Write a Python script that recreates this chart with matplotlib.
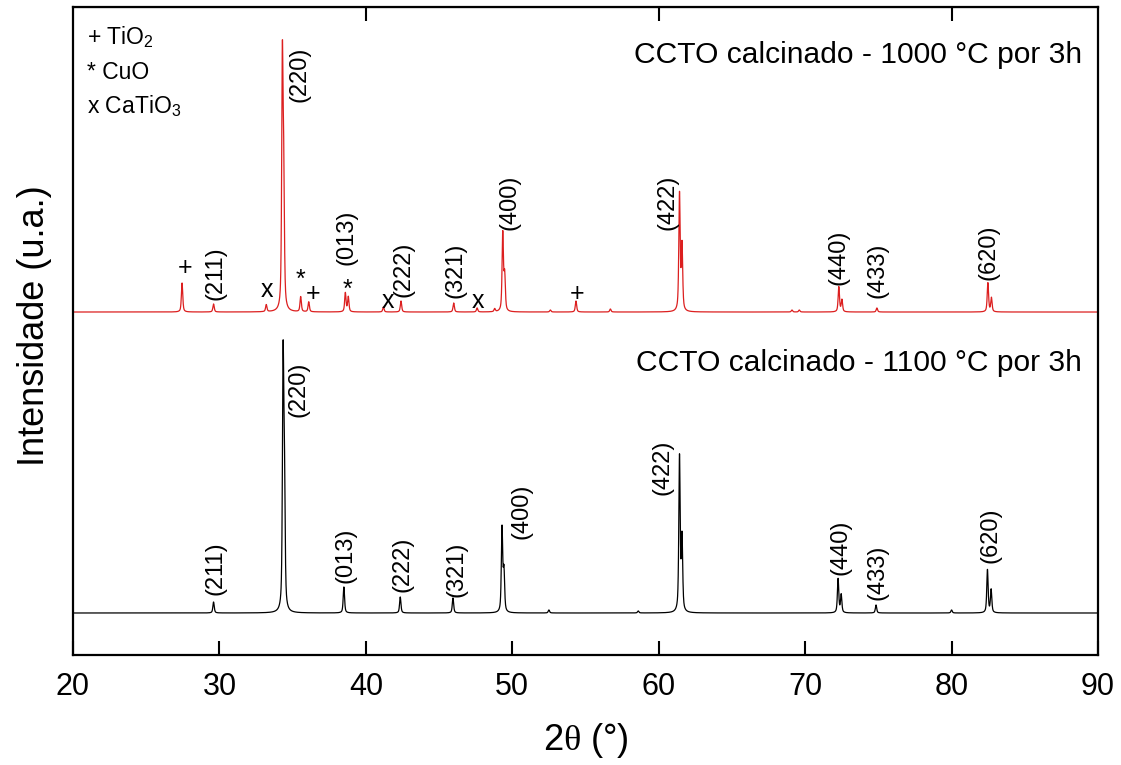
import numpy as np
import matplotlib.pyplot as plt

plt.rcParams['font.family'] = ['Liberation Sans', 'DejaVu Sans']
plt.rcParams['mathtext.fontset'] = 'custom'
plt.rcParams['mathtext.rm'] = 'Liberation Serif'
plt.rcParams['mathtext.sf'] = 'Liberation Sans'
plt.rcParams['mathtext.it'] = 'Liberation Serif:italic'

peaks_1100 = [29.60, 34.35, 34.44, 38.50, 42.35, 45.95, 49.30, 49.43, 52.50,
              58.60, 61.42, 61.59, 72.25, 72.46, 74.84, 80.00, 82.45, 82.70]
heights_1100 = [11, 246, 120, 26, 16, 15, 84, 40, 3,
                2, 155, 73, 34, 18, 8, 3, 43, 23]

peaks_1000 = [27.45, 29.60, 33.20, 34.30, 34.39, 35.55, 36.10, 38.60, 38.80,
              41.20, 42.40, 46.00, 47.60, 48.80, 49.35, 49.48, 52.60, 54.35,
              56.70, 61.42, 61.59, 69.10, 69.60, 72.30, 72.51, 74.90, 82.48, 82.72]
heights_1000 = [29, 8, 7, 245, 120, 15, 10, 19, 15,
                5, 11, 9, 4, 3, 78, 35, 2, 11,
                3, 117, 65, 2, 2, 25, 12, 4, 29, 14]

hkl_labels = ['(211)', '(220)', '(013)', '(222)', '(321)',
              '(400)', '(422)', '(440)', '(433)', '(620)']
phase_marks = ['+', 'x', '*', '+', '*', 'x', 'x', '+']
phase_legend = ['+ TiO$_{\\mathsf{2}}$', '* CuO', 'x CaTiO$_{\\mathsf{3}}$']
titles = ['CCTO calcinado - 1000 °C por 3h', 'CCTO calcinado - 1100 °C por 3h']

# layout: deslocamento vertical das curvas e posicao dos rotulos
offset_1100 = 42
offset_1000 = 343
hkl_xy_1100 = [(29.70, 60), (35.37, 238), (38.58, 72), (42.47, 63), (46.22, 58),
               (50.66, 116), (60.29, 160), (72.38, 80), (74.97, 55), (82.69, 92)]
hkl_xy_1000 = [(29.70, 355), (35.50, 553), (38.71, 390), (42.54, 358), (46.09, 357),
               (49.84, 425), (60.57, 425), (72.31, 370), (74.91, 357), (82.49, 375)]
mark_xy = [(27.65, 380), (33.25, 358), (35.55, 368), (36.40, 354),
           (38.78, 358), (41.51, 347), (47.66, 347), (54.42, 354)]

two_theta = np.arange(20, 90.0001, 0.01)


def pattern(pos, amp, fwhm=0.11, eta=0.6):
    y = np.zeros_like(two_theta)
    for p, a in zip(pos, amp):
        d = (two_theta - p) / (fwhm / 2)
        y += a * (eta / (1 + d ** 2) + (1 - eta) * np.exp(-np.log(2) * d ** 2))
    return y


red = '#dc1f1f'
fig = plt.figure(figsize=(11.21, 7.65), dpi=100)
ax = fig.add_axes([0.0651, 0.1438, 0.9144, 0.8470])

ax.plot(two_theta, pattern(peaks_1000, heights_1000) + offset_1000, color=red, lw=0.9)
ax.plot(two_theta, pattern(peaks_1100, heights_1100) + offset_1100, color='black', lw=0.9)

for lab, (x, y) in zip(hkl_labels, hkl_xy_1000):
    ax.text(x, y, lab, rotation=90, ha='center', va='bottom', fontsize=17)
for lab, (x, y) in zip(hkl_labels, hkl_xy_1100):
    ax.text(x, y, lab, rotation=90, ha='center', va='bottom', fontsize=17)
for m, (x, y) in zip(phase_marks, mark_xy):
    ax.text(x, y, m, ha='center', va='baseline', fontsize=18)

for i, lab in enumerate(phase_legend):
    ax.text(0.0137, 0.942 - i * 0.053, lab, transform=ax.transAxes,
            ha='left', va='baseline', fontsize=16.5)

ax.text(88.9, 600, titles[0], ha='right', va='center', fontsize=21.6)
ax.text(88.9, 292, titles[1], ha='right', va='center', fontsize=21.6)

ax.set_xlim(20, 90)
ax.set_ylim(0, 648)
ax.set_xticks(np.arange(20, 91, 10))
ax.set_yticks([])
ax.tick_params(axis='x', direction='in', length=10, width=1.5, labelsize=22, pad=12)
for sp in ax.spines.values():
    sp.set_linewidth(1.6)

top = ax.secondary_xaxis('top')
top.set_xticks([40, 60, 80])
top.set_xticklabels([])
top.tick_params(direction='in', length=10, width=1.5)

ax.set_xlabel('2$\\mathrm{\\theta}$ (°)', fontsize=26)
ax.xaxis.set_label_coords(0.5, -0.102)
ax.set_ylabel('Intensidade (u.a.)', fontsize=26)
ax.yaxis.set_label_coords(-0.02, 0.509)

fig.savefig('out.png', dpi=100)
